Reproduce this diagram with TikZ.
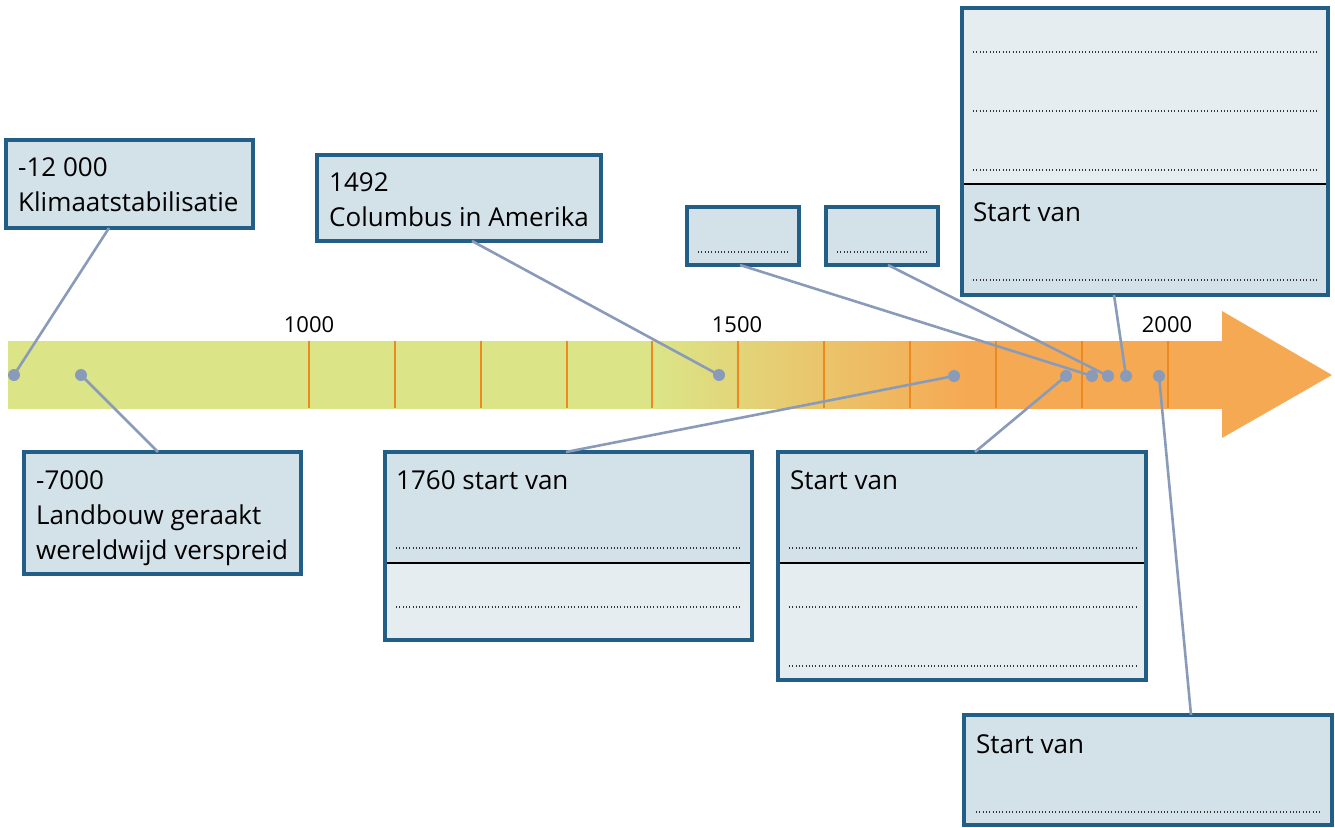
\documentclass[tikz,border=0pt]{standalone}
\usepackage{fontspec}
\setmainfont{Open Sans}
\definecolor{greenc}{RGB}{219,229,136}
\definecolor{orangec}{RGB}{246,169,83}
\definecolor{tickc}{RGB}{236,137,31}
\definecolor{connc}{RGB}{138,155,185}
\definecolor{boxblue}{RGB}{34,94,134}
\definecolor{boxdark}{RGB}{211,225,233}
\definecolor{boxlight}{RGB}{229,237,241}
\pgfdeclarehorizontalshading{barshade}{100bp}{color(0bp)=(greenc); color(51.5bp)=(greenc); color(64.4bp)=(orangec); color(100bp)=(orangec)}
\begin{document}
\begin{tikzpicture}[x=1pt,y=-1pt,
  box/.style={draw=boxblue, line width=3.2pt, fill=boxdark, inner sep=0pt, outer sep=0pt, anchor=north west},
  frame/.style={draw=boxblue, line width=3.2pt},
  conn/.style={draw=connc, line width=2.6pt},
  dot/.style={circle, fill=connc, inner sep=0pt, minimum size=12pt},
  fillline/.style={draw=black!80, line width=1.1pt, dash pattern=on 1pt off 2.3pt},
  divider/.style={draw=black, line width=1.2pt},
  tickline/.style={draw=tickc, line width=1.8pt},
  lbl/.style={anchor=base west, inner sep=0pt, font=\fontsize{26}{35}\selectfont, align=left},
  yearlbl/.style={anchor=base, inner sep=0pt, font=\fontsize{22}{22}\selectfont}]
\useasboundingbox (0,0) rectangle (1335,827);

% timeline bar
\shade[shading=barshade] (8,341) rectangle (1224,408);
\fill[orangec] (1222,311) -- (1332,375) -- (1222,438) -- cycle;
\foreach \x in {309,395,481,567,652,738,824,910,996,1082,1168}
  \draw[tickline] (\x,341) -- (\x,408);
\node[yearlbl] (y1000) at (309,332) {1000};
\node[yearlbl] (y1500) at (737,332) {1500};
\node[yearlbl] (y2000) at (1167,332) {2000};

% dots
\node[dot] (d1) at (14,375) {};
\node[dot] (d2) at (81,375) {};
\node[dot] (d3) at (719,375) {};
\node[dot] (d4) at (954,376) {};
\node[dot] (d5) at (1066,376) {};
\node[dot] (d6) at (1092,376) {};
\node[dot] (d7) at (1108,376) {};
\node[dot] (d8) at (1126,376) {};
\node[dot] (d9) at (1159,376) {};

% boxes
\node[box, minimum width=247pt, minimum height=88pt] (b1) at (6,140) {};
\node[lbl] (t1) at (18,211.5) {-12 000\\Klimaatstabilisatie};

\node[box, minimum width=284pt, minimum height=86pt] (b2) at (317,155) {};
\node[lbl] (t2) at (329,226.5) {1492\\Columbus in Amerika};

\node[box, minimum width=112pt, minimum height=58pt] (s1) at (687,207) {};
\draw[fillline] (698,252) -- (789,252);
\node[box, minimum width=112pt, minimum height=58pt] (s2) at (826,207) {};
\draw[fillline] (837,252) -- (928,252);

\node[box, minimum width=366pt, minimum height=287pt] (bt) at (962,8) {};
\fill[boxlight] (962,8) rectangle (1328,184);
\draw[divider] (962,184) -- (1328,184);
\draw[frame] (bt.north west) rectangle (bt.south east);
\foreach \y in {52,111,170,280} \draw[fillline] (973,\y) -- (1318,\y);
\node[lbl] (tt) at (973,221) {Start van};

\node[box, minimum width=277pt, minimum height=122pt] (b7000) at (24,452) {};
\node[lbl] (t7000) at (36,559) {-7000\\Landbouw geraakt\\wereldwijd verspreid};

\node[box, minimum width=367pt, minimum height=188pt] (b1760) at (385,452) {};
\fill[boxlight] (385,563) rectangle (752,640);
\draw[divider] (385,563) -- (752,563);
\draw[frame] (b1760.north west) rectangle (b1760.south east);
\foreach \y in {548,607} \draw[fillline] (396,\y) -- (742,\y);
\node[lbl] (t1760) at (396,489) {1760 start van};

\node[box, minimum width=368pt, minimum height=228pt] (bmid) at (778,452) {};
\fill[boxlight] (778,563) rectangle (1146,680);
\draw[divider] (778,563) -- (1146,563);
\draw[frame] (bmid.north west) rectangle (bmid.south east);
\foreach \y in {548,607,666} \draw[fillline] (789,\y) -- (1136,\y);
\node[lbl] (tmid) at (790,489) {Start van};

\node[box, minimum width=368pt, minimum height=110pt] (bbot) at (964,715) {};
\draw[fillline] (976,812) -- (1321,812);
\node[lbl] (tbot) at (976,753) {Start van};

% connectors
\draw[conn] ([xshift=103pt]b1.south west) -- (d1.center);
\draw[conn] ([xshift=155pt]b2.south west) -- (d3.center);
\draw[conn] ([xshift=53pt]s1.south west) -- (d6.center);
\draw[conn] ([xshift=62pt]s2.south west) -- (d7.center);
\draw[conn] ([xshift=152pt]bt.south west) -- (d8.center);
\draw[conn] ([xshift=134pt]b7000.north west) -- (d2.center);
\draw[conn] ([xshift=181pt]b1760.north west) -- (d4.center);
\draw[conn] ([xshift=197pt]bmid.north west) -- (d5.center);
\draw[conn] ([xshift=227pt]bbot.north west) -- (d9.center);
\end{tikzpicture}
\end{document}
